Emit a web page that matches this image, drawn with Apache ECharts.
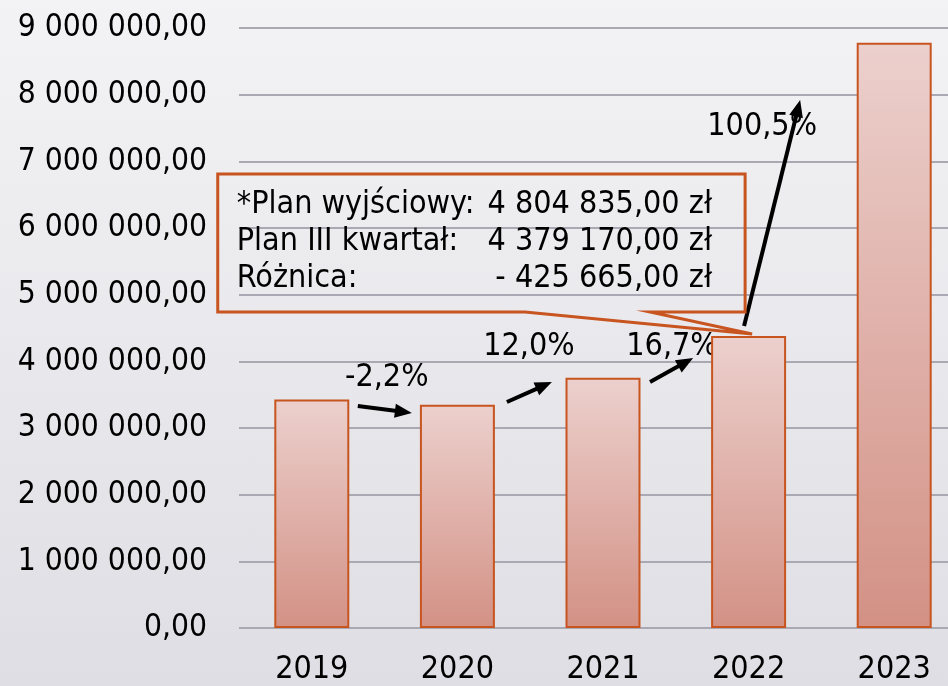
<!DOCTYPE html>
<html>
<head>
<meta charset="utf-8">
<script src="https://cdn.jsdelivr.net/npm/echarts@6/dist/echarts.min.js"></script>
<style>
html, body { margin: 0; padding: 0; overflow: hidden; width: 948px; height: 686px; }
#container { width: 967px; height: 686px; background: linear-gradient(#f3f3f5, #dfdee4); }
</style>
</head>
<body>
<div id="container"></div>
<script>
var years = ["2019", "2020", "2021", "2022", "2023"];
var values = [3425800, 3350400, 3752500, 4379170, 8780300];
var yMin = 0, yMax = 9000000, yStep = 1000000;

// growth labels, placed at [category index, value]
var pctLabels = ["-2,2%", "12,0%", "16,7%", "100,5%"];
var pctPos = [[0.515, 3750000], [1.491, 4215000], [2.474, 4215000], [3.093, 7515000]];
var arrows = [
    [[0.316, 3330000], [0.687, 3225000]],
    [[1.340, 3390000], [1.649, 3690000]],
    [[2.323, 3690000], [2.619, 4050000]],
    [[2.969, 4530000], [3.354, 7920000]]
];

// callout box
var noteRows = [
    ["*Plan wyjściowy:", "4 804 835,00 zł"],
    ["Plan III kwartał:", "4 379 170,00 zł"],
    ["Różnica:", "- 425 665,00 zł"]
];
var noteBox = [[-0.646, 6810000], [2.976, 4740000]];
var noteTip = [3.024, 4410000];
var noteBase = [1.464, 2.323];

var FONT = "'DejaVu Sans Condensed', 'DejaVu Sans', sans-serif";
var ORANGE = "#c8541f";

var dom = document.getElementById("container");
var myChart = echarts.init(dom, null, { renderer: "canvas" });

function fmt(v) {
    return String(v).replace(/\B(?=(\d{3})+(?!\d))/g, " ") + ",00";
}

var option = {
    backgroundColor: "transparent",
    animation: false,
    // plot runs past the right edge of the 948px window, as in the source
    grid: { left: 239, right: 0, top: 28, bottom: 58, containLabel: false },
    xAxis: {
        type: "category",
        data: years,
        axisLine: { show: false },
        axisTick: { show: false },
        axisLabel: { color: "#000", fontSize: 32, fontFamily: FONT, margin: 26 }
    },
    yAxis: {
        type: "value",
        min: yMin,
        max: yMax,
        interval: yStep,
        axisLine: { show: false },
        axisTick: { show: false },
        axisLabel: { color: "#000", fontSize: 31.5, fontFamily: FONT, margin: 32, formatter: fmt },
        splitLine: { lineStyle: { color: "#a9a9b3", width: 2 } }
    },
    series: [{
        type: "bar",
        data: values,
        barWidth: "51.5%",
        itemStyle: {
            borderColor: ORANGE,
            borderWidth: 2,
            color: new echarts.graphic.LinearGradient(0, 0, 0, 1, [
                { offset: 0, color: "#ecd0cd" },
                { offset: 1, color: "#d39185" }
            ])
        }
    }]
};
myChart.setOption(option);

function toPx(p) {
    var x0 = myChart.convertToPixel({ xAxisIndex: 0 }, 0);
    var x1 = myChart.convertToPixel({ xAxisIndex: 0 }, 1);
    return [x0 + p[0] * (x1 - x0), myChart.convertToPixel({ yAxisIndex: 0 }, p[1])];
}

var g = [];
arrows.forEach(function (a) {
    var s = toPx(a[0]), e = toPx(a[1]);
    var dx = e[0] - s[0], dy = e[1] - s[1];
    var len = Math.sqrt(dx * dx + dy * dy);
    var ux = dx / len, uy = dy / len;
    var hl = 17, hw = 7;
    var bx = e[0] - ux * hl, by = e[1] - uy * hl;
    g.push({
        type: "line",
        shape: { x1: s[0], y1: s[1], x2: bx + ux * 2, y2: by + uy * 2 },
        style: { stroke: "#000", lineWidth: 4 }
    });
    g.push({
        type: "polygon",
        shape: { points: [[e[0], e[1]], [bx - uy * hw, by + ux * hw], [bx + uy * hw, by - ux * hw]] },
        style: { fill: "#000" }
    });
});
pctLabels.forEach(function (t, i) {
    var p = toPx(pctPos[i]);
    g.push({
        type: "text", x: p[0], y: p[1],
        style: {
            text: t, fill: "#000", font: "32px " + FONT,
            align: "center", verticalAlign: "middle",
            textAlign: "center", textVerticalAlign: "middle"
        }
    });
});

var tl = toPx(noteBox[0]), br = toPx(noteBox[1]);
var tip = toPx(noteTip);
var b1 = toPx([noteBase[0], noteBox[1][1]]), b2 = toPx([noteBase[1], noteBox[1][1]]);
g.push({
    type: "polygon",
    shape: { points: [[tl[0], tl[1]], [br[0], tl[1]], [br[0], br[1]], [b2[0], br[1]], tip, [b1[0], br[1]], [tl[0], br[1]]] },
    style: { fill: "none", stroke: ORANGE, lineWidth: 3 }
});
noteRows.forEach(function (r, i) {
    var y = tl[1] + 31 + i * 37;
    g.push({
        type: "text", x: tl[0] + 19, y: y,
        style: { text: r[0], fill: "#000", font: "32px " + FONT, align: "left", verticalAlign: "middle", textAlign: "left", textVerticalAlign: "middle" }
    });
    g.push({
        type: "text", x: br[0] - 33, y: y,
        style: { text: r[1], fill: "#000", font: "32px " + FONT, align: "right", verticalAlign: "middle", textAlign: "right", textVerticalAlign: "middle" }
    });
});
myChart.setOption({ graphic: g });

window.addEventListener("resize", function () { myChart.resize(); });
</script>
</body>
</html>
